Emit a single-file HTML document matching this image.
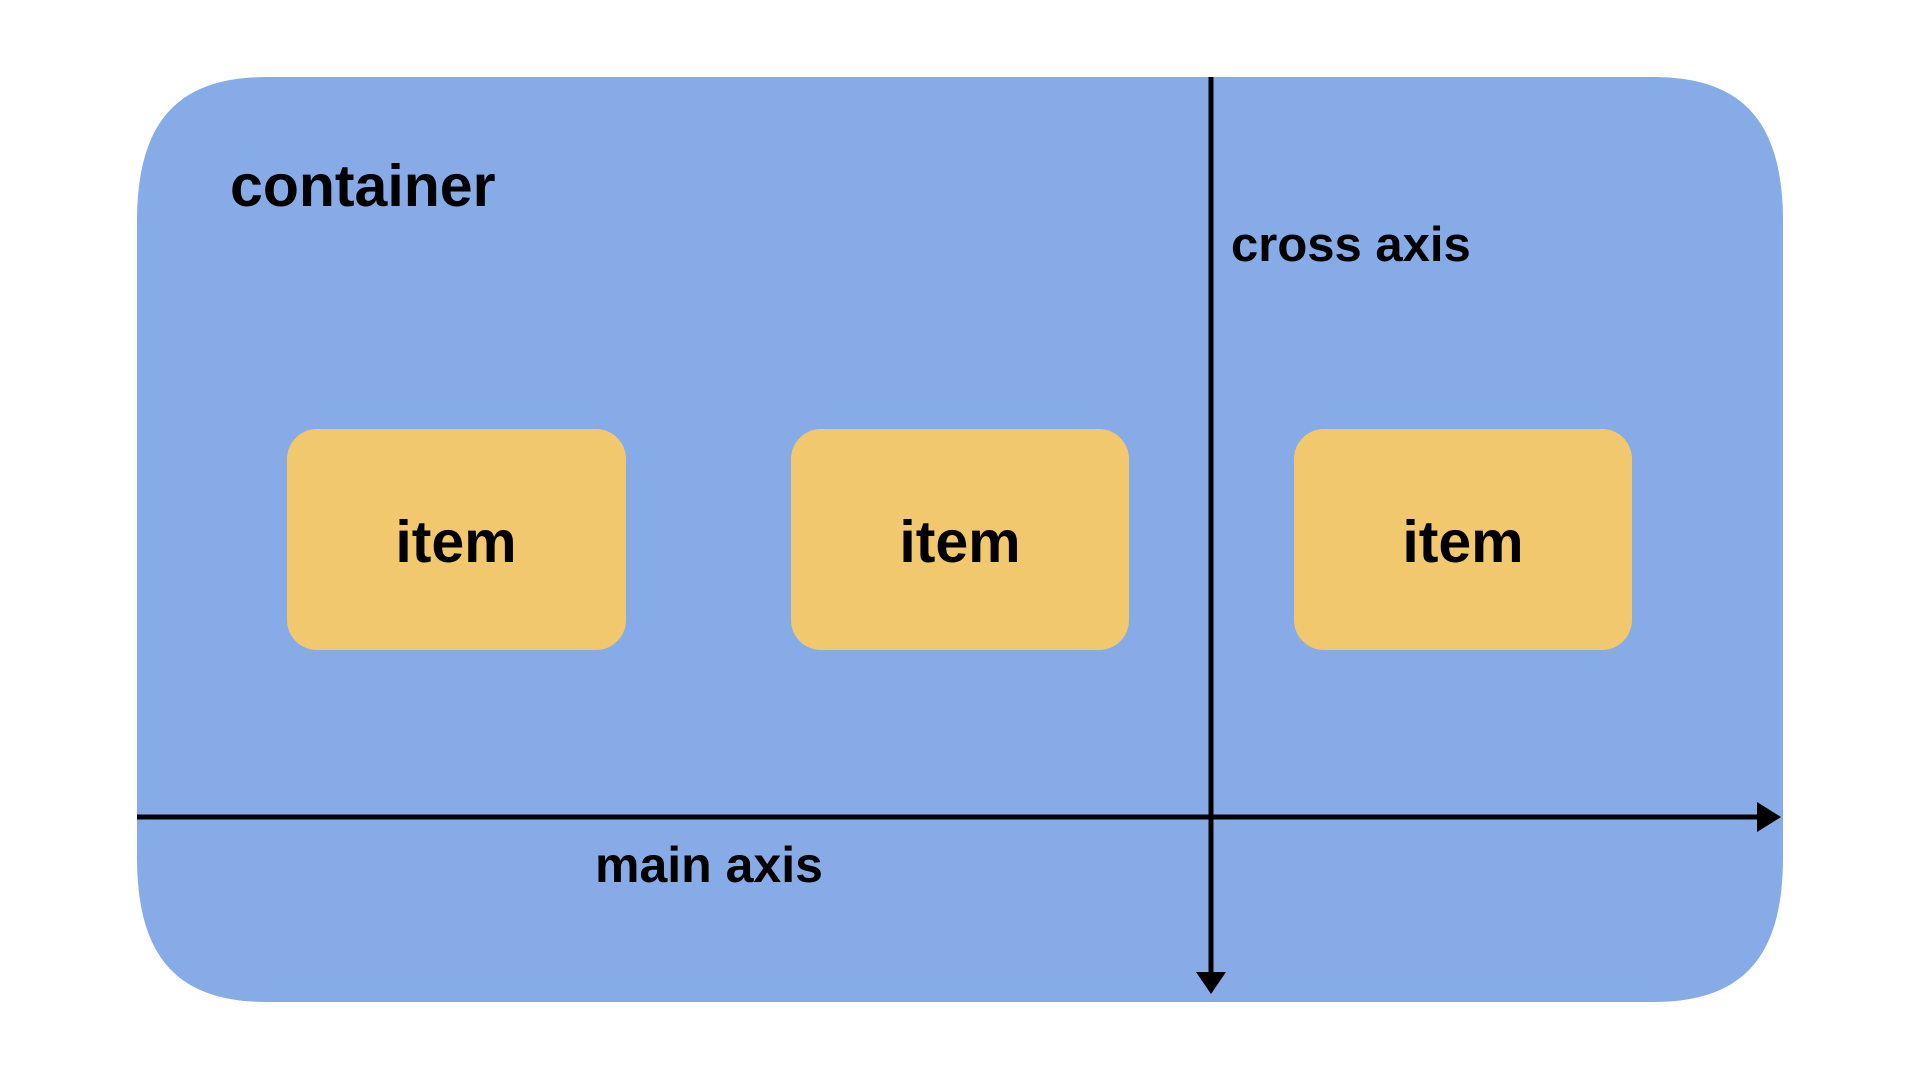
<!DOCTYPE html>
<html><head><meta charset="utf-8"><style>html,body{margin:0;padding:0;background:#fff;width:1920px;height:1080px;overflow:hidden}</style></head>
<body>
<svg width="1920" height="1080" viewBox="0 0 1920 1080" xmlns="http://www.w3.org/2000/svg" font-family="Liberation Sans, sans-serif" font-weight="bold">
<path d="M137,222 C137,122 177,77 267,77 L1653,77 C1743,77 1783,122 1783,222 L1783,857 C1783,957 1743,1002 1653,1002 L267,1002 C177,1002 137,957 137,857 Z" fill="#86abe6"/>
<rect x="287" y="429" width="339" height="221" rx="30" fill="#f2c86e"/>
<rect x="791" y="429" width="338" height="221" rx="30" fill="#f2c86e"/>
<rect x="1294" y="429" width="338" height="221" rx="30" fill="#f2c86e"/>
<text x="230" y="206" font-size="59" fill="#000">container</text>
<text x="456" y="562" font-size="59" fill="#000" text-anchor="middle">item</text>
<text x="960" y="562" font-size="59" fill="#000" text-anchor="middle">item</text>
<text x="1463" y="562" font-size="59" fill="#000" text-anchor="middle">item</text>
<text x="1231" y="261" font-size="49" fill="#000">cross axis</text>
<text x="595" y="882" font-size="50" fill="#000">main axis</text>
<line x1="1211" y1="77" x2="1211" y2="980" stroke="#000" stroke-width="5"/>
<polygon points="1196,972 1226,972 1211,994" fill="#000"/>
<line x1="137" y1="817" x2="1765" y2="817" stroke="#000" stroke-width="5"/>
<polygon points="1757,802 1757,832 1781,817" fill="#000"/>
</svg>
</body></html>
